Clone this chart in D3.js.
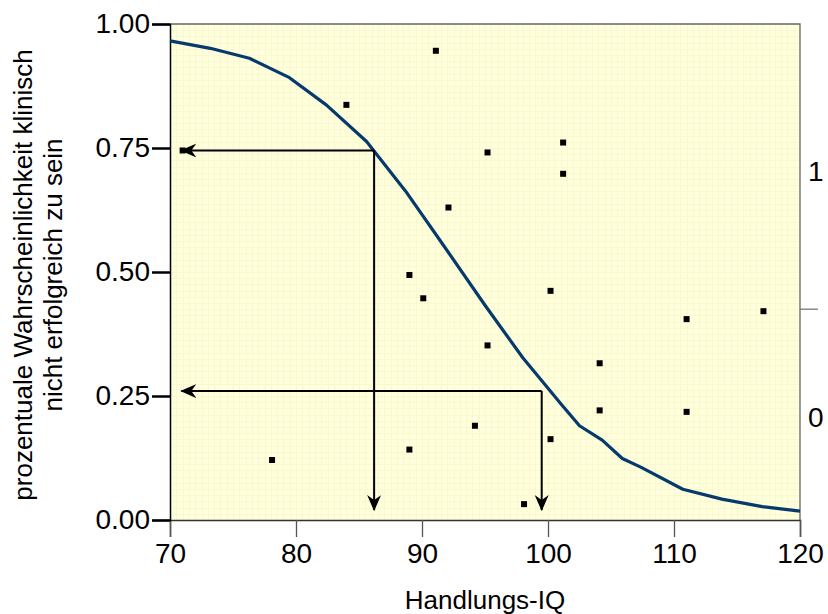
<!DOCTYPE html>
<html>
<head>
<meta charset="utf-8">
<script src="https://cdn.jsdelivr.net/npm/d3@7"></script>
<style>
    body { margin: 0; background: #fff; }
    text { font-family: "Liberation Sans", Arial, Helvetica, sans-serif; fill: #000; }
</style>
</head>
<body>
<div id="chart"></div>
<script>
    // logistic fit
    var curveIQ   = [70, 73.2, 76.3, 79.4, 82.4, 85.6, 88.7, 91.7, 95.0, 98.0, 101.1, 102.5, 104.3, 105.9, 107.4, 110.7, 113.8, 117.0, 120];
    var curveProb = [0.966, 0.951, 0.931, 0.893, 0.837, 0.763, 0.663, 0.554, 0.433, 0.327, 0.232, 0.190, 0.161, 0.124, 0.106, 0.062, 0.042, 0.027, 0.018];

    // single patients
    var pointIQ   = [71.0, 78.1, 84.0, 89.0, 89.0, 90.1, 91.1, 92.1, 94.2, 95.2, 95.2, 98.1, 100.2, 100.2, 101.2, 101.2, 104.1, 104.1, 111.0, 111.0, 117.1];
    var pointProb = [0.745, 0.121, 0.837, 0.494, 0.142, 0.447, 0.946, 0.630, 0.190, 0.741, 0.352, 0.032, 0.462, 0.163, 0.761, 0.698, 0.316, 0.221, 0.405, 0.218, 0.421];

    // reading examples (curve point -> axes)
    var readIQ   = [86.2, 99.5];
    var readProb = [0.745, 0.26];

    var xTicks = [70, 80, 90, 100, 110, 120];
    var yTicks = [0, 0.25, 0.5, 0.75, 1];
    var rightLabels = ["1", "0"];
    var rightLabelPos = [0.704, 0.208];
    var rightTicks = [0.425];

    var width = 828, height = 614;
    var mLeft = 170, mTop = 24, mRight = 800, mBottom = 520;

    var x = d3.scaleLinear().domain([70, 120]).range([mLeft, mRight]);
    var y = d3.scaleLinear().domain([0, 1]).range([mBottom, mTop]);

    var svg = d3.select("#chart").append("svg")
        .attr("width", width)
        .attr("height", height);

    svg.append("defs").append("marker")
        .attr("id", "arrow")
        .attr("viewBox", "0 -7 16 14")
        .attr("refX", 15)
        .attr("refY", 0)
        .attr("markerWidth", 16)
        .attr("markerHeight", 14)
        .attr("markerUnits", "userSpaceOnUse")
        .attr("orient", "auto")
        .append("path")
        .attr("d", "M16,0L0,-7L5,0L0,7Z")
        .attr("fill", "#000");

    // plot background with the fine grid
    svg.append("rect")
        .attr("x", mLeft).attr("y", mTop)
        .attr("width", mRight - mLeft).attr("height", mBottom - mTop)
        .attr("fill", "#ffffdc");

    var grid = svg.append("g").attr("stroke", "#faf8d0").attr("stroke-width", 1);
    grid.selectAll("line.gx")
        .data(d3.range(70.5, 120, 0.5))
        .enter().append("line")
        .attr("x1", function (d) { return Math.round(x(d)) + 0.5; })
        .attr("x2", function (d) { return Math.round(x(d)) + 0.5; })
        .attr("y1", mTop).attr("y2", mBottom);
    grid.selectAll("line.gy")
        .data(d3.range(0.0125, 1, 0.0125))
        .enter().append("line")
        .attr("y1", function (d) { return Math.round(y(d)) + 0.5; })
        .attr("y2", function (d) { return Math.round(y(d)) + 0.5; })
        .attr("x1", mLeft).attr("x2", mRight);

    // frame: top and right in grey
    svg.append("path")
        .attr("d", "M" + mLeft + "," + mTop + "H" + mRight + "V" + mBottom)
        .attr("fill", "none")
        .attr("stroke", "#666")
        .attr("stroke-width", 1.3);

    // bottom axis
    var xAxis = svg.append("g")
        .attr("transform", "translate(0," + mBottom + ")")
        .call(d3.axisBottom(x).tickValues(xTicks).tickSize(17).tickPadding(6).tickFormat(d3.format("d")));
    xAxis.select(".domain").attr("stroke", "#333").attr("stroke-width", 1.5);
    xAxis.selectAll(".tick line").attr("stroke", "#555").attr("stroke-width", 1.3);
    xAxis.selectAll("text").attr("font-size", 28).attr("font-family", "Liberation Sans, Arial, sans-serif").attr("fill", "#000");

    // left axis
    var yAxis = svg.append("g")
        .attr("transform", "translate(" + mLeft + ",0)")
        .call(d3.axisLeft(y).tickValues(yTicks).tickSize(18).tickPadding(2).tickFormat(d3.format(".2f")));
    yAxis.select(".domain").attr("stroke", "#000").attr("stroke-width", 1.5);
    yAxis.selectAll(".tick line").attr("stroke", "#000").attr("stroke-width", 2.5);
    yAxis.selectAll("text").attr("font-size", 28).attr("font-family", "Liberation Sans, Arial, sans-serif").attr("fill", "#000");

    // right side marks
    svg.append("g").selectAll("line")
        .data(rightTicks)
        .enter().append("line")
        .attr("x1", mRight).attr("x2", mRight + 18)
        .attr("y1", function (d) { return y(d); })
        .attr("y2", function (d) { return y(d); })
        .attr("stroke", "#777").attr("stroke-width", 1.3);
    svg.append("g").selectAll("text")
        .data(rightLabels)
        .enter().append("text")
        .attr("x", mRight + 8)
        .attr("y", function (d, i) { return y(rightLabelPos[i]); })
        .attr("dy", "0.36em")
        .attr("font-size", 28)
        .text(function (d) { return d; });

    // logistic curve
    var line = d3.line()
        .x(function (d, i) { return x(curveIQ[i]); })
        .y(function (d, i) { return y(curveProb[i]); });
    svg.append("path")
        .datum(curveIQ)
        .attr("d", line)
        .attr("fill", "none")
        .attr("stroke", "#063a6d")
        .attr("stroke-width", 3.2)
        .attr("stroke-linejoin", "round");

    // reading arrows
    var arrows = svg.append("g").attr("stroke", "#000").attr("stroke-width", 2).attr("fill", "none");
    arrows.selectAll("line.h")
        .data(readIQ)
        .enter().append("line")
        .attr("x1", function (d) { return x(d); })
        .attr("y1", function (d, i) { return y(readProb[i]); })
        .attr("x2", x(70.9))
        .attr("y2", function (d, i) { return y(readProb[i]); })
        .attr("marker-end", "url(#arrow)");
    arrows.selectAll("line.v")
        .data(readIQ)
        .enter().append("line")
        .attr("x1", function (d) { return x(d); })
        .attr("y1", function (d, i) { return y(readProb[i]); })
        .attr("x2", function (d) { return x(d); })
        .attr("y2", y(0.02))
        .attr("marker-end", "url(#arrow)");

    // points
    svg.append("g").selectAll("rect")
        .data(pointIQ)
        .enter().append("rect")
        .attr("x", function (d) { return x(d) - 3; })
        .attr("y", function (d, i) { return y(pointProb[i]) - 3; })
        .attr("width", 6)
        .attr("height", 6)
        .attr("fill", "#000");

    // titles
    svg.append("text")
        .attr("x", (mLeft + mRight) / 2)
        .attr("y", 609)
        .attr("text-anchor", "middle")
        .attr("font-size", 26)
        .text("Handlungs-IQ");

    var yTitle = ["prozentuale Wahrscheinlichkeit klinisch", "nicht erfolgreich zu sein"];
    svg.append("g").selectAll("text")
        .data(yTitle)
        .enter().append("text")
        .attr("transform", function (d, i) { return "translate(" + (32 + i * 30) + ",275) rotate(-90)"; })
        .attr("text-anchor", "middle")
        .attr("font-size", 26)
        .text(function (d) { return d; });
</script>
</body>
</html>
